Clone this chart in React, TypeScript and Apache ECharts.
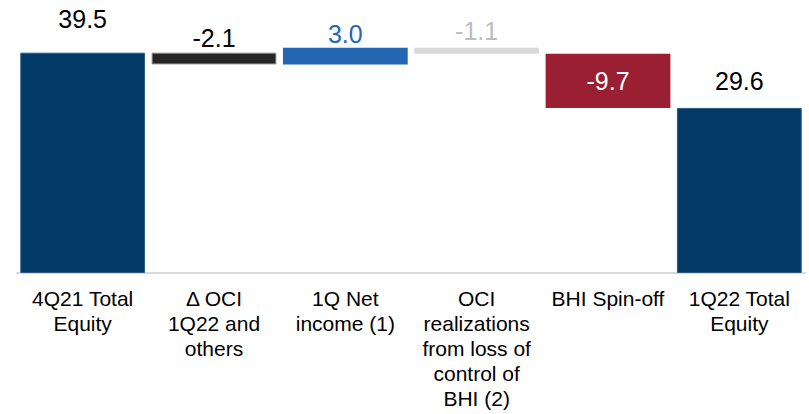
import React, { useEffect, useRef } from "react";
import * as echarts from "echarts";

const categories = [
  "4Q21 Total\nEquity",
  "Δ OCI\n1Q22 and\nothers",
  "1Q Net\nincome (1)",
  "OCI\nrealizations\nfrom loss of\ncontrol of\nBHI (2)",
  "BHI Spin-off",
  "1Q22 Total\nEquity",
];
const values = [39.5, -2.1, 3.0, -1.1, -9.7, 29.6];
const isTotal = [true, false, false, false, false, true];
const barColors = ["#013A66", "#262626", "#2366B1", "#D9D9D9", "#9A1F33", "#013A66"];
const labelColors = ["#000000", "#000000", "#2366B1", "#BDBDBD", "#FFFFFF", "#000000"];
const labelDistances = [21, 2, 1, 4, 0, 14];

export default function App() {
  const ref = useRef<HTMLDivElement>(null);
  useEffect(() => {
    if (!ref.current) return;
    const chart = echarts.init(ref.current, null, { renderer: "svg" });
    const base: number[] = [];
    const heights: number[] = [];
    let running = 0;
    values.forEach((v, i) => {
      if (isTotal[i]) {
        base.push(0);
        heights.push(v);
        running = v;
      } else {
        const next = running + v;
        base.push(Math.min(running, next));
        heights.push(Math.abs(v));
        running = next;
      }
    });
    chart.setOption({
      animation: false,
      grid: { left: 17, right: 4, top: 22, bottom: 141 },
      xAxis: {
        type: "category",
        data: categories,
        axisLine: { lineStyle: { color: "#D9D9D9", width: 2 } },
        axisTick: { show: false },
        axisLabel: {
          interval: 0,
          color: "#000000",
          fontFamily: "Liberation Sans",
          fontSize: 21,
          lineHeight: 25,
          margin: 13,
        },
      },
      yAxis: {
        type: "value",
        min: 0,
        max: 45,
        show: false,
        splitLine: { show: false },
      },
      series: [
        {
          type: "bar",
          stack: "w",
          silent: true,
          itemStyle: { color: "transparent" },
          data: base,
          barWidth: "95%",
        },
        {
          type: "bar",
          stack: "w",
          barWidth: "95%",
          data: heights.map((h, i) => ({
            value: h,
            itemStyle: {
              color: barColors[i],
              borderColor: i === 1 ? "#8a8a8a" : i === 0 || i === 5 ? "#2c5a82" : barColors[i],
              borderWidth: i === 1 || i === 0 || i === 5 ? 1 : 0,
            },
            label: {
              show: true,
              position: i === 4 ? "inside" : "top",
              distance: labelDistances[i],
              color: labelColors[i],
              fontFamily: "Liberation Sans",
              fontSize: 25,
              formatter: () => values[i].toFixed(1),
            },
          })),
        },
      ],
    });
    return () => chart.dispose();
  }, []);
  return (
    <div
      ref={ref}
      style={{ position: "fixed", left: 0, top: 0, width: 809, height: 414, background: "#fff" }}
    />
  );
}
